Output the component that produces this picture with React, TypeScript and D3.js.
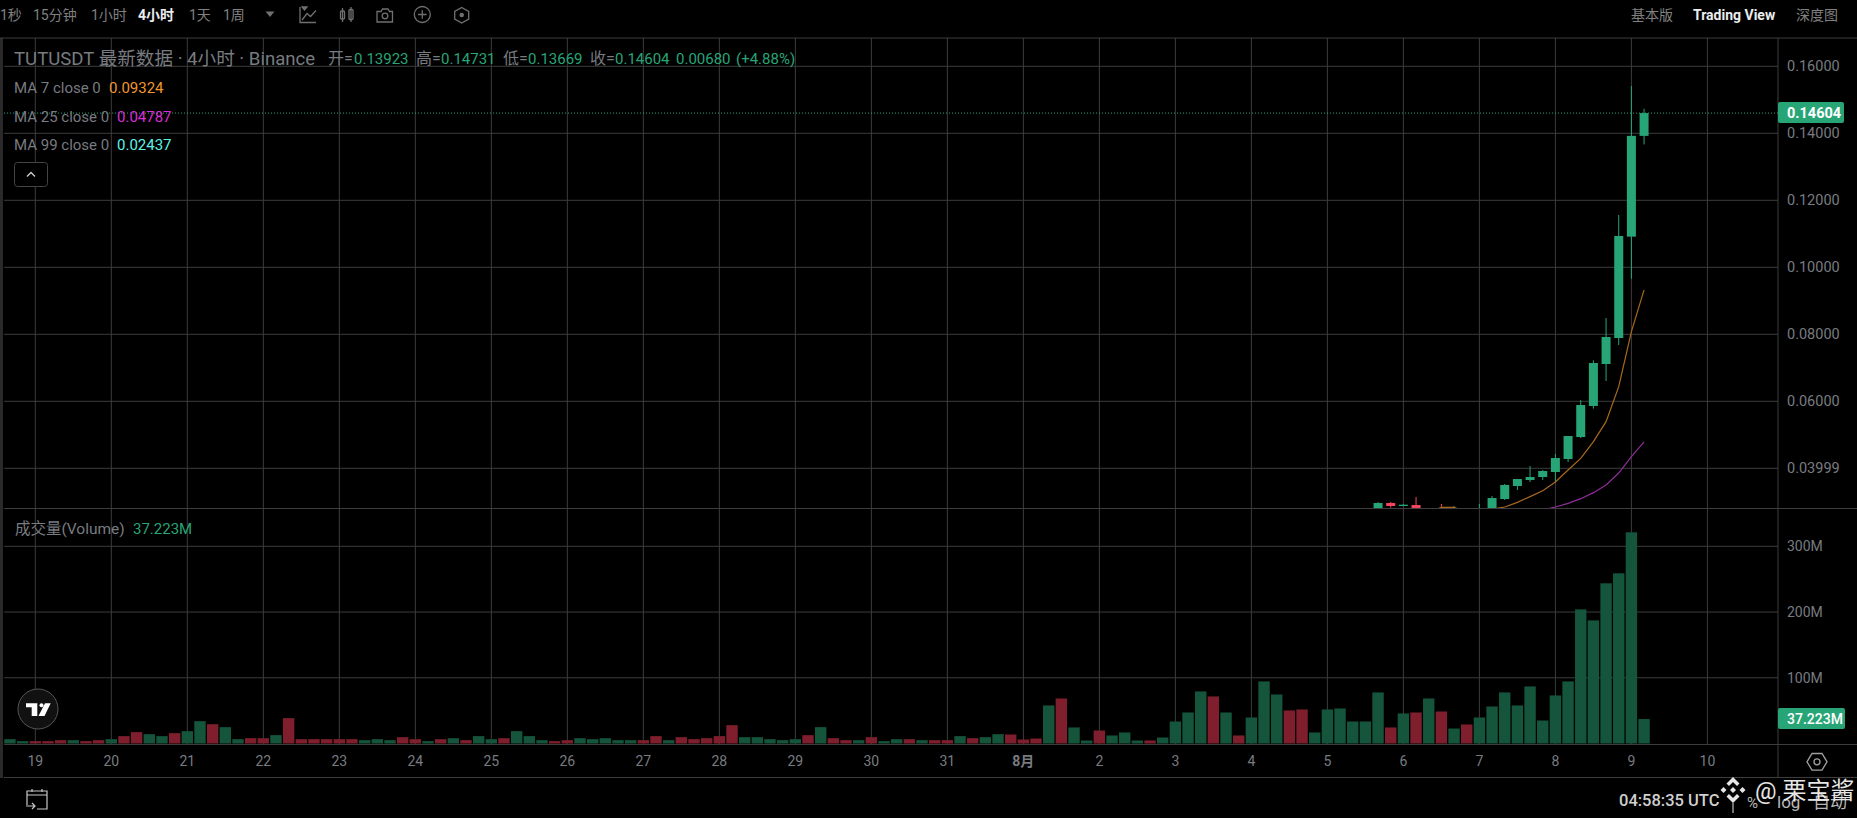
import React from "react";
import * as d3 from "d3";

const W = 1857, H = 818;
const dayLabels = ["19","20","21","22","23","24","25","26","27","28","29","30","31","8月","2","3","4","5","6","7","8","9","10"];
const priceTicks = [0.16, 0.14, 0.12, 0.1, 0.08, 0.06, 0.04];
const priceTickLabels = ["0.16000","0.14000","0.12000","0.10000","0.08000","0.06000","0.03999"];
const volumeTicks = [100, 200, 300];

// bar index (0 = midnight of day 19, six bars a day), open, high, low, close
const candleIndex = [106,107,108,109,111,112,114,115,116,117,118,119,120,121,122,123,124,125,126,127];
const candleOpen =  [0.0275,0.02964,0.02875,0.02904,0.0272,0.0271,0.0265,0.0270,0.03083,0.03472,0.03651,0.03740,0.03889,0.04278,0.04934,0.05860,0.07113,0.07890,0.10915,0.13923];
const candleHigh =  [0.02994,0.02994,0.0293,0.03143,0.02934,0.02875,0.02934,0.03173,0.03531,0.03680,0.04069,0.03949,0.04427,0.04964,0.06039,0.07223,0.08487,0.11562,0.15413,0.14731];
const candleLow =   [0.0270,0.02825,0.0287,0.0270,0.0270,0.0268,0.0262,0.0265,0.03053,0.03352,0.03591,0.03651,0.03591,0.04188,0.04904,0.05780,0.06606,0.07681,0.0966,0.13669];
const candleClose = [0.02964,0.02875,0.02914,0.0272,0.0271,0.0272,0.0270,0.03113,0.03501,0.03680,0.03740,0.03919,0.04307,0.04964,0.05889,0.07143,0.07919,0.10935,0.13924,0.14604];

const ma7Index = [110,111,112,113,114,115,116,117,118,119,120,121,122,123,124,125,126,127];
const ma7Values = [0.0268,0.02836,0.02836,0.0268,0.0272,0.0278,0.02845,0.02984,0.03155,0.03332,0.03591,0.03949,0.04297,0.04795,0.05392,0.06437,0.08078,0.09324];
const ma25Index = [119,120,121,122,123,124,125,126,127];
const ma25Values = [0.02755,0.02845,0.02954,0.03093,0.03273,0.03501,0.03859,0.04347,0.04787];

// volume in millions, first bar is index -2
const volumes = [
  6.6,3.6,3.6,3.6,5.1,5.1,3.6,5.1,6.6,11.2,17.3,14.2,11.2,15.7,18.8,34,29.4,24.9,6.6,8.1,8.1,12.7,38.6,
  6.6,6.6,6.6,6.6,6.6,5.1,6.6,5.1,9.6,6.6,3.6,6.6,8.1,5.1,11.2,6.6,8.1,18.8,11.2,5.1,3.6,5.1,8.1,6.6,8.1,
  5.1,5.1,5.1,11.2,5.1,9.6,6.6,8.1,11.2,27.9,9.6,9.6,6.6,5.1,6.6,12.7,24.9,8.1,5.1,5.1,9.6,3.6,6.6,6.6,
  5.1,5.1,5.1,11.2,8.1,9.6,14.2,13.7,6.1,7.6,57.9,68.5,24.4,4.6,19.8,12.2,16.8,4.6,4.6,9.1,33.5,47.2,79.2,
  71.6,47.2,12.2,39.6,94.4,74.6,50.3,51.8,16.8,51.8,53.3,33.5,33.5,77.7,24.4,45.7,47.2,68.5,48.7,22.8,28.9,
  39.6,56.3,77.7,57.9,86.8,35,73.1,94.4,204,187.3,243.7,258.9,321.3,37.223,
];
const volumeDownIndex = [0,1,2,4,5,7,8,11,14,17,18,20,21,22,23,24,25,29,30,32,34,37,41,42,48,49,51,52,53,54,55,61,63,64,66,69,71,72,74,77,78,79,81,84,88,93,95,99,100,107,109,111,113];

const topNav: [string, number][] = [["1秒",0],["15分钟",33],["1小时",91],["1天",189],["1周",223]];

const GREEN = "#28a577";
const RED = "#f6465d";
const VOLG = "#14553c";
const VOLR = "#7f1f2d";
const GRID = "#3d3d3d";
const TXT = "#787b80";
const NAV = "#808080";
const ICON = "#707070";
const FONT = "Roboto, 'Noto Sans CJK SC', sans-serif";

export default function App() {
  const x = d3.scaleLinear().domain([0, 126]).range([35.3, 1631.4]);
  const y = d3.scaleLinear().domain([0.14, 0.04]).range([133.3, 468.3]);
  const v = d3.scaleLinear().domain([0, 300]).range([743.5, 546.3]);
  const dayX = (i: number) => x(i * 6);
  const maLine = d3.line<[number, number]>().x(d => x(d[0])).y(d => y(d[1]));
  const ma7 = maLine(ma7Index.map((i, k) => [i, ma7Values[k]] as [number, number])) || "";
  const ma25 = maLine(ma25Index.map((i, k) => [i, ma25Values[k]] as [number, number])) || "";
  return (
    <svg width={W} height={H} style={{ position: "absolute", left: 0, top: 0, background: "#000", fontFamily: FONT }}>
      <defs>
        <clipPath id="price"><rect x={4} y={38} width={1774} height={470} /></clipPath>
      </defs>
      <rect width={W} height={H} fill="#000" />
      <rect x={0} y={38} width={3} height={740} fill="#2a2a2a" />

      {dayLabels.map((d, i) => (
        <line key={d + i} x1={dayX(i)} x2={dayX(i)} y1={38} y2={744} stroke={GRID} />
      ))}
      {priceTicks.map(t => <line key={t} x1={4} x2={1778} y1={y(t)} y2={y(t)} stroke={GRID} />)}
      {volumeTicks.map(t => <line key={t} x1={4} x2={1778} y1={v(t)} y2={v(t)} stroke={GRID} />)}

      <line x1={0} x2={W} y1={38} y2={38} stroke={GRID} />
      <line x1={4} x2={W} y1={508.5} y2={508.5} stroke={GRID} />
      <line x1={4} x2={W} y1={744.5} y2={744.5} stroke={GRID} />
      <line x1={4} x2={W} y1={777.5} y2={777.5} stroke={GRID} />
      <line x1={1778} x2={1778} y1={38} y2={777} stroke={GRID} />

      <line x1={4} x2={1778} y1={y(0.14604)} y2={y(0.14604)} stroke={GREEN} strokeDasharray="1 2" />

      <g clipPath="url(#price)">
        {candleIndex.map((ci, k) => {
          const up = candleClose[k] >= candleOpen[k];
          const c = up ? GREEN : RED;
          const top = y(Math.max(candleOpen[k], candleClose[k]));
          const bot = y(Math.min(candleOpen[k], candleClose[k]));
          return (
            <g key={ci}>
              <line x1={x(ci)} x2={x(ci)} y1={y(candleHigh[k])} y2={y(candleLow[k])} stroke={c} strokeWidth={1} />
              <rect x={x(ci) - 4.5} y={top} width={9} height={Math.max(bot - top, 1)} fill={c} />
            </g>
          );
        })}
        <path d={ma7} fill="none" stroke="#a8691f" strokeWidth={1.2} />
        <path d={ma25} fill="none" stroke="#8e2d9a" strokeWidth={1.2} />
      </g>

      {volumes.map((val, k) => {
        const i = k - 2;
        const cx = x(i);
        const left = Math.max(cx - 5.7, 4);
        return (
          <rect key={k} x={left} y={v(val)} width={cx + 5.7 - left} height={743.5 - v(val)}
            fill={volumeDownIndex.includes(i) ? VOLR : VOLG} />
        );
      })}

      {/* top navigation */}
      {topNav.map(([t, tx]) => (
        <text key={t} x={tx} y={20} fontSize={14} fill={NAV}>{t}</text>
      ))}
      <text x={138} y={20} fontSize={14} fontWeight={700} fill="#eaecef">4小时</text>
      <path d="M265.5 11.5h9l-4.5 5.5z" fill={ICON} />
      <g fill="none" stroke={ICON} strokeWidth={1.3}>
        <path d="M300 7v15.5h16M302 20l5-6.5 3.5 3 5.5-6" />
        <path d="M302 7h5l-2.5 3z" fill={ICON} />
        <path d="M342.5 8v14M351 7v15" /><rect x={340.5} y={11} width={4} height={8} rx={1} /><rect x={349} y={9.5} width={4} height={10} rx={1} />
        <path d="M377 11.5h4l1.5-2.5h5.5l1.5 2.5h3v10.5h-15.5z" /><circle cx={385} cy={16} r={2.8} />
        <circle cx={422.3} cy={14.5} r={8} /><path d="M418 14.5h8.6M422.3 10.2v8.6" />
        <path d="M461.7 7.5l7 4v7.5l-7 4-7-4v-7.5z" /><circle cx={461.7} cy={15} r={1.6} fill={ICON} />
      </g>
      <text x={1631} y={20} fontSize={14} fill={NAV}>基本版</text>
      <text x={1693} y={20} fontSize={14} fontWeight={700} fill="#eaecef">Trading View</text>
      <text x={1796} y={20} fontSize={14} fill={NAV}>深度图</text>

      {/* legend */}
      <text x={14} y={65} fontSize={18.6} fill={TXT}>TUTUSDT 最新数据 · 4小时 · Binance</text>
      <g fontSize={16} fill={TXT}>
        <text x={328} y={64}>开=</text><text x={416} y={64}>高=</text><text x={503} y={64}>低=</text><text x={590} y={64}>收=</text>
      </g>
      <g fontSize={15} fill={TXT}>
        <text x={14} y={93}>MA 7 close 0</text>
        <text x={14} y={122}>MA 25 close 0</text>
        <text x={14} y={150}>MA 99 close 0</text>
        <text x={15} y={534} fontSize={15.5}>成交量(Volume)</text>
      </g>
      <g fontSize={15} fill={GREEN}>
        <text x={354} y={64}>0.13923</text><text x={441} y={64}>0.14731</text><text x={528} y={64}>0.13669</text><text x={615} y={64}>0.14604</text>
        <text x={676} y={64}>0.00680</text><text x={736} y={64}>(+4.88%)</text>
        <text x={133} y={534}>37.223M</text>
      </g>
      <text x={109} y={93} fontSize={15} fill="#f0962a">0.09324</text>
      <text x={117} y={122} fontSize={15} fill="#d92ed9">0.04787</text>
      <text x={117} y={150} fontSize={15} fill="#5ff0e6">0.02437</text>
      <rect x={14.5} y={162.5} width={33} height={24} rx={3} fill="#000" stroke="#444" />
      <path d="M27 176.5l4-4 4 4" fill="none" stroke="#d0d0d0" strokeWidth={1.3} />

      {/* right axes */}
      {priceTicks.map((t, i) => (
        <text key={t} x={1787} y={y(t) + 5} fontSize={14.5} fill={TXT}>{priceTickLabels[i]}</text>
      ))}
      {volumeTicks.map(t => (
        <text key={t} x={1787} y={v(t) + 5} fontSize={14} fill={TXT}>{t}M</text>
      ))}
      <rect x={1778} y={102} width={66} height={21} rx={2} fill={GREEN} />
      <text x={1787} y={118} fontSize={14.5} fontWeight={700} fill="#fff">0.14604</text>
      <rect x={1778} y={708} width={67} height={21} rx={2} fill={GREEN} />
      <text x={1787} y={724} fontSize={14} fontWeight={500} fill="#fff">37.223M</text>

      {/* x axis */}
      {dayLabels.map((d, i) => (
        <text key={d + i} x={dayX(i)} y={766} textAnchor="middle" fontSize={14}
          fontWeight={d === "8月" ? 700 : 400} fill={TXT}>{d}</text>
      ))}
      <path d="M1812 753.5h10l5 8.3-5 8.3h-10l-5-8.3z" fill="none" stroke="#a0a0a0" strokeWidth={1.3} />
      <circle cx={1817} cy={761.8} r={3} fill="none" stroke="#a0a0a0" strokeWidth={1.3} />

      {/* logo */}
      <circle cx={38} cy={709} r={20} fill="#111" stroke="#555" />
      <path d="M26 703.3h11.3V716h-5.6v-8.7H26z" fill="#fff" />
      <circle cx={41.5} cy={705.3} r={2} fill="#fff" />
      <path d="M45 703.3h5.7L44.5 716h-6z" fill="#fff" />

      {/* calendar */}
      <g fill="none" stroke="#c8c8c8" strokeWidth={1.2}>
        <path d="M27 805v-14h20v18h-10M27 795h20M32 789v3M42 789v3M26 806h9M32 803l3 3-3 3" />
      </g>

      <text x={1619} y={806} fontSize={16.5} fontWeight={500} fill="#d0d0d0">04:58:35 UTC</text>
      <text x={1747} y={808} fontSize={15} fill="#b8b8b8">%</text>
      <text x={1777} y={808} fontSize={17} fill="#b8b8b8">log</text>
      <text x={1813} y={808} fontSize={17} fill="#b8b8b8">自动</text>

      {/* watermark */}
      <g fill="#e6e6e6">
        <path d="M1733 777l6.5 6.5-2.5 2.5-4-4-4 4-2.5-2.5z" />
        <path d="M1733 787l3 3-3 3-3-3z" />
        <path d="M1723.5 787l3 3-3 3-3-3zM1742.5 787l3 3-3 3-3-3z" />
        <path d="M1733 803l-6.5-6.5 2.5-2.5 4 4 4-4 2.5 2.5z" />
        <rect x={1732.5} y={803} width={1} height={10} />
      </g>
      <text x={1755} y={799} fontSize={24} fill="#e6e6e6">@ 栗宝酱</text>
    </svg>
  );
}
